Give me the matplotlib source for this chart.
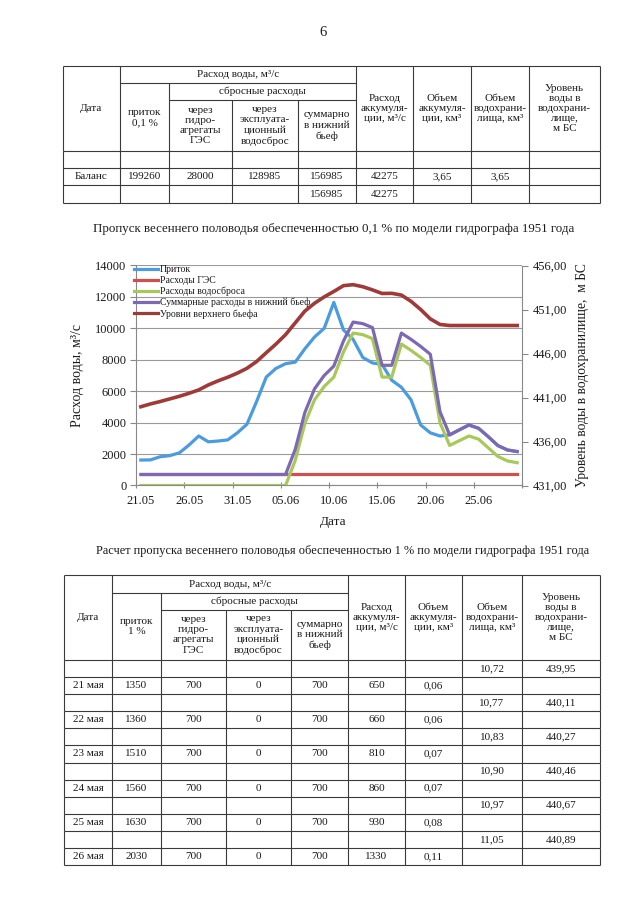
import matplotlib
matplotlib.use("Agg")
import matplotlib.pyplot as plt
from matplotlib.lines import Line2D

plt.rcParams['font.family'] = ['Liberation Serif', 'DejaVu Serif']

# ---------------- chart data ----------------
dates = ["21.05", "22.05", "23.05", "24.05", "25.05", "26.05", "27.05", "28.05", "29.05", "30.05",
         "31.05", "01.06", "02.06", "03.06", "04.06", "05.06", "06.06", "07.06", "08.06", "09.06",
         "10.06", "11.06", "12.06", "13.06", "14.06", "15.06", "16.06", "17.06", "18.06", "19.06",
         "20.06", "21.06", "22.06", "23.06", "24.06", "25.06", "26.06", "27.06", "28.06", "29.06"]

inflow = [1620, 1630, 1830, 1900, 2080, 2580, 3150, 2780, 2830, 2900,
          3350, 3900, 5350, 6900, 7450, 7750, 7850, 8700, 9450, 10000,
          11650, 9900, 9300, 8150, 7800, 7700, 6700, 6250, 5450, 3850,
          3350, 3150, 3220, 3540, 3850, 3640, 3110, 2540, 2260, 2160]

hpp_release = [700] * 40

spillway = [0, 0, 0, 0, 0, 0, 0, 0, 0, 0,
            0, 0, 0, 0, 0, 0, 1600, 3950, 5450, 6300,
            6900, 8500, 9700, 9600, 9350, 6900, 6900, 9000, 8600, 8150,
            7650, 4000, 2550, 2850, 3150, 2950, 2400, 1850, 1560, 1450]

total_release = [700, 700, 700, 700, 700, 700, 700, 700, 700, 700,
                 700, 700, 700, 700, 700, 700, 2300, 4650, 6150, 7000,
                 7600, 9200, 10400, 10300, 10050, 7650, 7650, 9700, 9300, 8850,
                 8350, 4700, 3220, 3540, 3850, 3640, 3110, 2540, 2260, 2160]

upper_level = [439.95, 440.27, 440.54, 440.84, 441.14, 441.48, 441.86, 442.43, 442.89, 443.30,
               443.77, 444.32, 445.09, 446.09, 447.07, 448.14, 449.48, 450.82, 451.71, 452.43,
               453.05, 453.71, 453.82, 453.59, 453.23, 452.82, 452.84, 452.64, 451.93, 451.00,
               449.93, 449.30, 449.18, 449.18, 449.18, 449.18, 449.18, 449.18, 449.18, 449.18]

series_names = ["Приток", "Расходы ГЭС", "Расходы водосброса",
                "Суммарные расходы в нижний бьеф", "Уровни верхнего бьефа"]
series_colors = ["#4A9BE0", "#CF4E4E", "#A9C85A", "#7D68B5", "#A03A38"]

left_ticks = [0, 2000, 4000, 6000, 8000, 10000, 12000, 14000]
right_ticks = [431, 436, 441, 446, 451, 456]
right_tick_labels = ["431,00", "436,00", "441,00", "446,00", "451,00", "456,00"]

# ---------------- table data ----------------
top_balance_row = ["Баланс", "199260", "28000", "128985", "156985", "42275", "3,65", "3,65", ""]
top_last_row = ["", "", "", "", "156985", "42275", "", "", ""]

bottom_rows = [
    ["", "", "", "", "", "", "", "10,72", "439,95"],
    ["21 мая", "1350", "700", "0", "700", "650", "0,06", "", ""],
    ["", "", "", "", "", "", "", "10,77", "440,11"],
    ["22 мая", "1360", "700", "0", "700", "660", "0,06", "", ""],
    ["", "", "", "", "", "", "", "10,83", "440,27"],
    ["23 мая", "1510", "700", "0", "700", "810", "0,07", "", ""],
    ["", "", "", "", "", "", "", "10,90", "440,46"],
    ["24 мая", "1560", "700", "0", "700", "860", "0,07", "", ""],
    ["", "", "", "", "", "", "", "10,97", "440,67"],
    ["25 мая", "1630", "700", "0", "700", "930", "0,08", "", ""],
    ["", "", "", "", "", "", "", "11,05", "440,89"],
    ["26 мая", "2030", "700", "0", "700", "1330", "0,11", "", ""],
]

W, H = 640, 905
fig = plt.figure(figsize=(W / 100, H / 100), dpi=100)
page = fig.add_axes([0, 0, 1, 1])
page.set_xlim(0, W)
page.set_ylim(H, 0)
page.axis("off")

TXT = "#1a1a1a"
LC = "#3a3a3a"
TFS = 8.0


def hline(y, x0, x1):
    page.plot([x0, x1], [y, y], color=LC, lw=0.8, solid_capstyle="butt")


def vline(x, y0, y1):
    page.plot([x, x], [y0, y1], color=LC, lw=0.8, solid_capstyle="butt")


def cell(x0, x1, y0, y1, s, fs=TFS, ls=1.18):
    page.text((x0 + x1) / 2, (y0 + y1) / 2, s, ha="center", va="center",
              fontsize=fs, color=TXT, linespacing=ls)


def header(cols, ytop, y1, y2, yhead, inflow_label):
    x = cols
    right = x[-1]
    hline(ytop, x[0], right)
    hline(y1, x[1], x[5])
    hline(y2, x[2], x[5])
    hline(yhead, x[0], right)
    for i, xx in enumerate(x):
        if i in (0, 1, 5, 6, 7, 8, 9):
            vline(xx, ytop, yhead)
        elif i == 2:
            vline(xx, y1, yhead)
        else:
            vline(xx, y2, yhead)
    cell(x[0], x[1], ytop, yhead, "Дата")
    cell(x[1], x[5], ytop, y1, "Расход воды, м³/с")
    cell(x[2], x[5], y1, y2, "сбросные расходы")
    cell(x[1], x[2], y1, yhead, inflow_label)
    cell(x[2], x[3], y2, yhead, "через\nгидро-\nагрегаты\nГЭС")
    cell(x[3], x[4], y2, yhead, "через\nэксплуата-\nционный\nводосброс")
    cell(x[4], x[5], y2, yhead, "суммарно\nв нижний\nбьеф")
    cell(x[5], x[6], ytop, yhead, "Расход\nаккумуля-\nции, м³/с")
    cell(x[6], x[7], ytop, yhead, "Объем\nаккумуля-\nции, км³")
    cell(x[7], x[8], ytop, yhead, "Объем\nводохрани-\nлища, км³")
    cell(x[8], x[9], ytop, yhead, "Уровень\nводы в\nводохрани-\nлище,\nм БС", ls=1.12)


# page number
page.text(323, 33, "6", ha="center", va="center", fontsize=10.5, color=TXT)

# ---------- top table ----------
tcols = [63, 120, 169, 232, 298, 356, 413, 471, 529, 600]
header(tcols, 66, 83.5, 100, 151, "приток\n0,1 %")
trows = [151, 168, 185.5, 203]
for y in trows[1:]:
    hline(y, tcols[0], tcols[-1])
for xx in tcols:
    vline(xx, trows[0], trows[-1])
for r, row in enumerate([top_balance_row, top_last_row]):
    for c, s in enumerate(row):
        if s:
            cell(tcols[c], tcols[c + 1], trows[r + 1], trows[r + 2], s)

# ---------- captions ----------
page.text(334, 229, "Пропуск весеннего половодья обеспеченностью 0,1 % по модели гидрографа 1951 года",
          ha="center", va="center", fontsize=9.3, color=TXT)
page.text(343, 551, "Расчет пропуска весеннего половодья обеспеченностью 1 % по модели гидрографа 1951 года",
          ha="center", va="center", fontsize=8.95, color=TXT)

# ---------- bottom table ----------
bcols = [64, 112, 161, 226, 291, 348, 405, 462, 522, 600]
header(bcols, 575, 593, 609.5, 660, "приток\n1 %")
row_h = (865 - 660) / len(bottom_rows)
for k in range(len(bottom_rows)):
    y0 = 660 + k * row_h
    y1 = y0 + row_h
    hline(y1, bcols[0], bcols[-1])
    for xx in bcols:
        vline(xx, y0, y1)
    for c, s in enumerate(bottom_rows[k]):
        if s:
            cell(bcols[c], bcols[c + 1], y0, y1, s)

# ---------- chart ----------
px0, px1, py0, py1 = 136, 522, 265.5, 485.5
ax = fig.add_axes([px0 / W, 1 - py1 / H, (px1 - px0) / W, (py1 - py0) / H])
ax.patch.set_alpha(0)
xs = list(range(len(dates)))
lw = 2.3
ax.plot(xs, inflow, color=series_colors[0], lw=lw, solid_joinstyle="round", zorder=3)
ax.plot(xs, hpp_release, color=series_colors[1], lw=lw, zorder=3)
ax.plot(xs, spillway, color=series_colors[2], lw=lw, solid_joinstyle="round", zorder=3)
ax.plot(xs, total_release, color=series_colors[3], lw=lw, solid_joinstyle="round", zorder=3)

ax.set_xlim(-0.5, len(dates) - 0.5)
ax.set_ylim(0, 14000)
ax.set_yticks(left_ticks)
ax.set_yticklabels([str(v) for v in left_ticks])
ax.yaxis.grid(True, color="#9a9a9a", lw=0.8)
ax.set_axisbelow(True)

major_x = [i - 0.5 for i in range(0, len(dates) + 1, 5)]
ax.set_xticks(major_x)
ax.set_xticklabels([""] * len(major_x))
label_idx = list(range(0, len(dates), 5))
ax.set_xticks(label_idx, minor=True)
ax.set_xticklabels([dates[i] for i in label_idx], minor=True)
ax.tick_params(axis="x", which="major", length=4, direction="inout", color="#888888")
ax.tick_params(axis="x", which="minor", length=0, pad=7, labelsize=9, labelcolor=TXT)
ax.tick_params(axis="y", length=4, direction="out", color="#888888", labelsize=9,
               labelcolor=TXT, pad=3)
for side in ("top", "right"):
    ax.spines[side].set_visible(False)
for side in ("left", "bottom"):
    ax.spines[side].set_color("#888888")
    ax.spines[side].set_linewidth(0.8)

ax.set_xlabel("Дата", fontsize=9.5, color=TXT)
ax.xaxis.set_label_coords(0.51, -0.14)
ax.set_ylabel("Расход воды, м³/с", fontsize=10, color=TXT)
ax.yaxis.set_label_coords(-0.135, 0.5)

ax2 = ax.twinx()
ax2.plot(xs, upper_level, color=series_colors[4], lw=2.6, solid_joinstyle="round", zorder=3)
ax2.set_ylim(431, 456)
ax2.set_yticks(right_ticks)
ax2.set_yticklabels(right_tick_labels)
ax2.tick_params(axis="y", length=4, direction="out", color="#888888", labelsize=9,
                labelcolor=TXT, pad=4)
for side in ("top", "left", "bottom"):
    ax2.spines[side].set_visible(False)
ax2.spines["right"].set_color("#888888")
ax2.spines["right"].set_linewidth(0.8)
ax2.set_ylabel("Уровень воды в водохранилище,  м БС", fontsize=9.8, color=TXT)
ax2.yaxis.set_label_coords(1.14, 0.5)

handles = [Line2D([], [], color=c, lw=2.3) for c in series_colors]
leg = ax2.legend(handles, series_names, loc="upper left", bbox_to_anchor=(-0.005, 1.0),
                 frameon=False, fontsize=7.0, handlelength=2.5, handletextpad=0.12,
                 labelspacing=0.17, borderpad=0.0, borderaxespad=0.0)
for t in leg.get_texts():
    t.set_color(TXT)

fig.savefig("out.png", dpi=100, facecolor="white")
